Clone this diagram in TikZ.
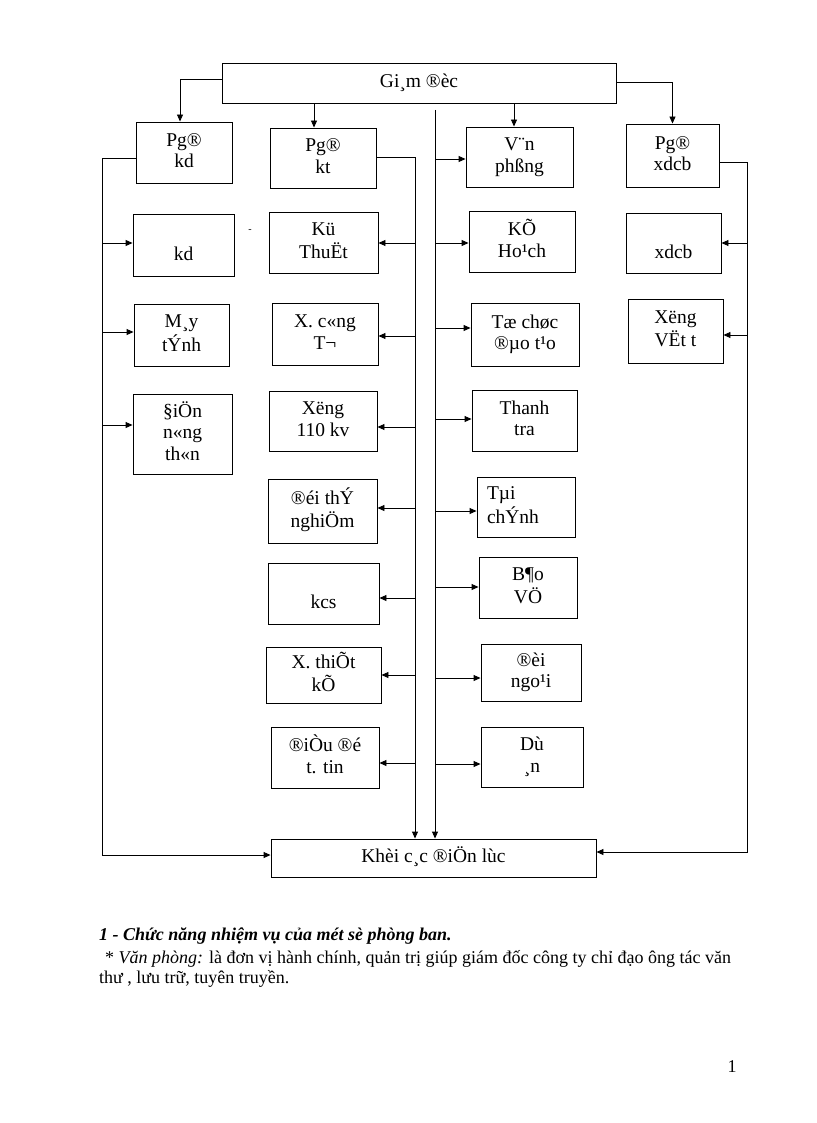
\documentclass[tikz,border=0pt]{standalone}
\usepackage{fontspec}
\setmainfont{Liberation Serif}
\usetikzlibrary{arrows.meta}
\tikzset{
  bx/.style={draw, line width=0.9pt, inner sep=0pt, align=center, font=\fontsize{19.5}{21.5}\selectfont},
  arr/.style={line width=0.9pt, -{Triangle[length=7pt,width=6pt]}},
  txt/.style={anchor=base west, inner sep=0pt, font=\fontsize{18}{21}\selectfont}
}
\newcommand\mybox[6]{\node[bx, minimum width={#4-#2}, minimum height={#5-#3}] (#1) at ({(#2+#4)/2},{(#3+#5)/2}) {\strut #6\strut};}
\newcommand\myra[3]{\draw[arr] (#1 |- 0,#3) -- (#2.west |- 0,#3);}
\newcommand\myla[3]{\draw[arr] (#1 |- 0,#3) -- (#2.east |- 0,#3);}
\begin{document}
\begin{tikzpicture}[x=1pt,y=-1pt]
\useasboundingbox[fill=white] (0,0) rectangle (816,1123);
% boxes
\mybox{gd}{222}{63}{616}{103}{Gi¸m ®èc}
\mybox{pkd}{136}{122}{232}{183}{Pg®\\kd}
\mybox{pkt}{270}{128}{376}{188}{Pg®\\kt}
\mybox{vp}{466}{127}{573}{187}{V¨n\\phßng}
\mybox{pxd}{626}{124}{719}{187}{Pg®\\xdcb}
\mybox{kd}{133}{214}{234}{276}{\\kd}
\mybox{mt}{134}{304}{229}{366}{M¸y\\tÝnh}
\mybox{dn}{133}{394}{232}{474}{§iÖn\\n«ng\\th«n}
\mybox{kt}{269}{212}{378}{273}{Kü\\ThuËt}
\mybox{xc}{272}{303}{378}{365}{X. c«ng\\T¬}
\mybox{xo}{269}{391}{377}{451}{Xëng\\110 kv}
\mybox{dtn}{268}{479}{377}{543}{®éi thÝ\\nghiÖm}
\mybox{kcs}{268}{563}{379}{624}{\\kcs}
\mybox{xtk}{266}{647}{381}{703}{X. thiÕt\\kÕ}
\mybox{ddt}{271}{727}{379}{788}{®iÒu ®é\\t. tin}
\mybox{kh}{469}{211}{575}{272}{KÕ\\Ho¹ch}
\mybox{tc}{471}{303}{579}{366}{Tæ chøc\\®µo t¹o}
\mybox{tt}{472}{390}{577}{451}{Thanh\\tra}
\node[bx, align=left, text width=78pt, minimum width=98pt, minimum height=60pt] (tcn) at (526,507) {\strut Tµi\\chÝnh\strut};
\mybox{bv}{479}{557}{577}{618}{B¶o\\VÖ}
\mybox{dng}{481}{644}{581}{701}{®èi\\ngo¹i}
\mybox{da}{481}{727}{583}{787}{Dù\\¸n}
\mybox{xd}{626}{213}{721}{273}{\\xdcb}
\mybox{xvt}{628}{299}{723}{363}{Xëng\\VËt t}
\mybox{khoi}{271}{839}{596}{877}{Khèi c¸c ®iÖn lùc}
\node[inner sep=0pt, font=\fontsize{10}{12}\selectfont] (dash) at (250,231) {-};
% top connectors
\draw[arr] (gd.west |- 0,79) -| ([xshift=-4pt]pkd.north);
\draw[arr] ([xshift=-9pt]pkt.north |- gd.south) -- ([xshift=-9pt]pkt.north);
\draw[arr] ([xshift=-5.5pt]vp.north |- gd.south) -- ([xshift=-5.5pt]vp.north);
\draw[arr] (gd.east |- 0,82) -| (pxd.north);
% trunks
\coordinate (cl) at (435,110);
\coordinate (kl) at (415,157);
\coordinate (ll) at (102,158);
\coordinate (rl) at (747,162);
\draw[arr] (cl) -- (cl |- khoi.north);
\draw[arr] (pkt.east |- kl) -- (kl) -- (kl |- khoi.north);
\draw[arr] (pkd.west |- ll) -- (ll) -- (ll |- 0,855) -- (khoi.west |- 0,855);
\draw[arr] (pxd.east |- rl) -- (rl) -- (rl |- 0,852) -- (khoi.east |- 0,852);
% branches
\myra{ll}{kd}{243} \myra{ll}{mt}{332} \myra{ll}{dn}{425}
\myla{kl}{kt}{243} \myla{kl}{xc}{336} \myla{kl}{xo}{427} \myla{kl}{dtn}{508}
\myla{kl}{kcs}{598} \myla{kl}{xtk}{675} \myla{kl}{ddt}{763}
\myra{cl}{vp}{159} \myra{cl}{kh}{243} \myra{cl}{tc}{328} \myra{cl}{tt}{419}
\myra{cl}{tcn}{511} \myra{cl}{bv}{587} \myra{cl}{dng}{678} \myra{cl}{da}{764}
\myla{rl}{xd}{243} \myla{rl}{xvt}{335}
% text below
\node[txt, font=\fontsize{18}{21}\selectfont\bfseries\itshape] (t1) at (99,940) {1 - Chức năng nhiệm vụ của mét sè phòng ban.};
\node[txt] (t2) at (105,963) {* \textit{Văn phòng:} là đơn vị hành chính, quản trị giúp giám đốc công ty chỉ đạo ông tác văn};
\node[txt] (t3) at (99,983) {thư , lưu trữ, tuyên truyền.};
\node[anchor=base, inner sep=0pt, font=\fontsize{18}{21}\selectfont] (pn) at (732,1072) {1};
\end{tikzpicture}
\end{document}
